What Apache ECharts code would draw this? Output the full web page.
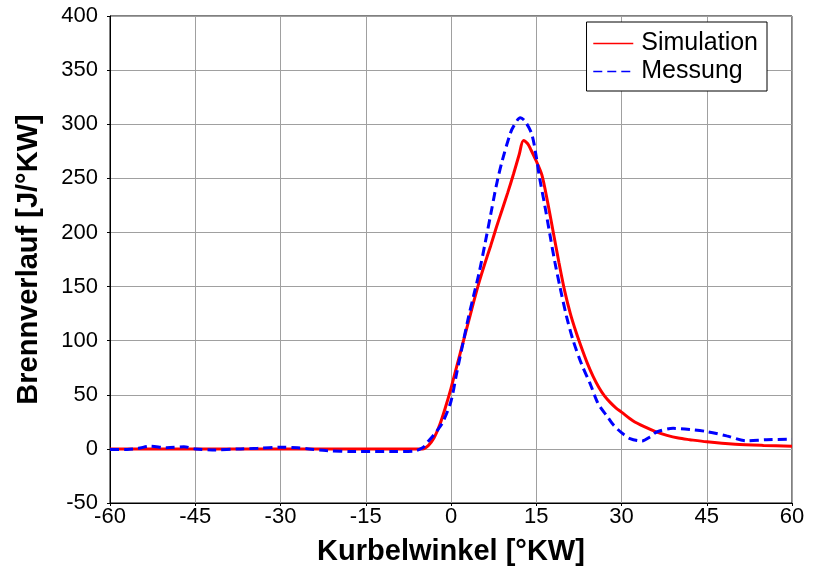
<!DOCTYPE html>
<html><head><meta charset="utf-8">
<script src="https://cdn.jsdelivr.net/npm/echarts@6/dist/echarts.min.js"></script>
<style>html,body{margin:0;padding:0;background:#fff}#c{width:816px;height:571px}</style>
</head><body><div id="c"></div>
<script>
const simX = [-60,-5,-4,-3,-2,-1,0,1,2,3,4,5,6,7,8,9,10,11,12,12.75,13.5,14,15,16,17,18,19,20,21,22,23,24,25,26,27,28,29,30,32,34,36,38,40,42,45,50,55,60];
const simY = [0,0,3,10,22,38,56,76,96,116,136,155,172,188,205,221,237,254,272,285,282,277,266,253,228,200,172,146,125,108,93,79,67,57,49,43,38,34,26,20.5,16,12.5,10,8.5,6.5,4.3,3.2,2.5];
const mesX = [-60,-57,-55,-53,-50,-47,-45,-42,-37,-34,-30,-27,-25,-22,-17,-10,-6.5,-5,-4,-3,-2,-1.4,0,1,2.2,3,4,5,6,7,8,9,10.4,11,12.2,13,14.2,15,15.6,16.5,17.4,18.3,19.2,20.3,21.5,23,24.5,25.6,26.2,27.5,28.6,30,31.5,33.6,35,36.2,39.1,42,45,48.5,52,55.5,60];
const mesY = [-0.5,-0.5,0.5,2.5,1,2,0,-1,0,0.5,1.5,1,0,-1.5,-2.5,-2.5,-2,1,7,13,20,25,44,70,100,120,142,164,190,217,244,266,291,298,306,303,291,270,250,225,198,172,149,123,100,78,60,45,39,30,22,15,9.5,7.3,11,15.6,19,18,16,12,7.5,8.5,9];
const seriesNames = ['Simulation','Messung'];
const xTicks = {min:-60,max:60,step:15};
const yTicks = {min:-50,max:400,step:50};

const FONT = '"Liberation Sans", Arial, sans-serif';
const chart = echarts.init(document.getElementById('c'), null, {renderer:'canvas'});
chart.setOption({
  animation:false,
  backgroundColor:'#fff',
  grid:{left:110,right:24,top:16,bottom:68,show:true,borderColor:'#000',borderWidth:1},
  legend:{
    orient:'vertical', right:49, top:22, backgroundColor:'#fff', borderColor:'#000', borderWidth:1,
    padding:[9,9,7,6], itemGap:3, itemWidth:40, itemHeight:14,
    itemStyle:{opacity:0},
    lineStyle:{width:1.5},
    textStyle:{fontFamily:FONT,fontSize:25,color:'#000',padding:[0,0,0,3]},
    data:seriesNames
  },
  xAxis:{type:'value',min:xTicks.min,max:xTicks.max,interval:xTicks.step,
    name:'Kurbelwinkel [°KW]',nameLocation:'middle',nameGap:34,
    nameTextStyle:{fontFamily:FONT,fontSize:29,fontWeight:'bold',color:'#000'},
    axisLine:{show:true,onZero:false,lineStyle:{color:'#000'}},
    axisTick:{show:true,length:3,lineStyle:{color:'#000'}},
    axisLabel:{fontFamily:FONT,fontSize:22,color:'#000',margin:3},
    splitLine:{show:true,lineStyle:{color:'#a0a0a0',width:1}}},
  yAxis:{type:'value',min:yTicks.min,max:yTicks.max,interval:yTicks.step,
    name:'Brennverlauf [J/°KW]',nameLocation:'middle',nameGap:67,
    nameTextStyle:{fontFamily:FONT,fontSize:29,fontWeight:'bold',color:'#000'},
    axisLine:{show:true,onZero:false,lineStyle:{color:'#000'}},
    axisTick:{show:true,length:3,lineStyle:{color:'#000'}},
    axisLabel:{fontFamily:FONT,fontSize:22,color:'#000',margin:12},
    splitLine:{show:true,lineStyle:{color:'#a0a0a0',width:1}}},
  series:[
    {name:seriesNames[0],type:'line',symbol:'none',smooth:0.3,z:2,
     lineStyle:{color:'#ff0000',width:3},itemStyle:{color:'#ff0000'},
     data:simX.map((x,i)=>[x,simY[i]])},
    {name:seriesNames[1],type:'line',symbol:'none',smooth:0.3,z:3,
     lineStyle:{color:'#0000ff',width:3,type:[9,5]},itemStyle:{color:'#0000ff'},
     data:mesX.map((x,i)=>[x,mesY[i]])}
  ]
});
</script></body></html>
